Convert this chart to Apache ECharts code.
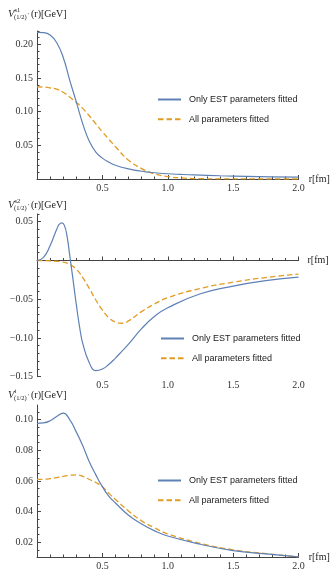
<!DOCTYPE html>
<html>
<head>
<meta charset="utf-8">
<script src="https://cdn.jsdelivr.net/npm/echarts@6/dist/echarts.min.js"></script>
<style>
  html, body { margin: 0; padding: 0; background: #fff; }
  #chart { width: 331px; height: 571px; }
</style>
</head>
<body>
<div id="chart"></div>
<script>
const seriesNames = ['Only EST parameters fitted', 'All parameters fitted']

// panel 1: V^s1
const r1 = [0, 0.05, 0.1, 0.15, 0.2, 0.25, 0.3, 0.35, 0.4, 0.45, 0.5, 0.55, 0.6, 0.7, 0.8, 0.85, 0.9, 1.0, 1.1, 1.2, 1.4, 1.6, 1.8, 2.0]
const est1 = [0.218, 0.2175, 0.214, 0.203, 0.181, 0.147, 0.115, 0.082, 0.056, 0.040, 0.031, 0.025, 0.0205, 0.015, 0.0115, 0.0103, 0.0093, 0.0078, 0.0068, 0.006, 0.0048, 0.004, 0.0033, 0.0027]
const all1 = [0.137, 0.1367, 0.1355, 0.1335, 0.129, 0.122, 0.114, 0.105, 0.094, 0.082, 0.070, 0.059, 0.048, 0.028, 0.0155, 0.011, 0.0075, 0.0036, 0.0016, 0.0007, 0.0002, 0.0001, 0, 0]
const yTicks1 = [0.05, 0.10, 0.15, 0.20]

// panel 2: V^s2
const r2 = [0, 0.05, 0.1, 0.15, 0.17, 0.19, 0.21, 0.23, 0.25, 0.275, 0.3, 0.325, 0.35, 0.4, 0.45, 0.5, 0.55, 0.6, 0.65, 0.7, 0.8, 0.9, 1.0, 1.25, 1.5, 1.75, 2.0]
const est2 = [0, 0.004, 0.019, 0.040, 0.0465, 0.0486, 0.045, 0.031, 0.007, -0.024, -0.056, -0.085, -0.107, -0.132, -0.1422, -0.140, -0.134, -0.126, -0.117, -0.108, -0.088, -0.072, -0.061, -0.043, -0.033, -0.026, -0.0215]
const all2 = [0, -0.0002, -0.0005, -0.001, -0.0015, -0.002, -0.0025, -0.0035, -0.005, -0.0075, -0.011, -0.016, -0.022, -0.036, -0.051, -0.064, -0.074, -0.0795, -0.081, -0.078, -0.066, -0.056, -0.048, -0.036, -0.028, -0.022, -0.0175]
const yTicks2 = [-0.15, -0.10, -0.05, 0.05]

// panel 3: V^t
const r3 = [0, 0.05, 0.1, 0.15, 0.2, 0.25, 0.3, 0.35, 0.4, 0.45, 0.5, 0.55, 0.6, 0.7, 0.8, 0.9, 1.0, 1.25, 1.5, 1.75, 2.0]
const est3 = [0.0975, 0.0978, 0.0992, 0.102, 0.1042, 0.100, 0.092, 0.083, 0.0725, 0.064, 0.0563, 0.050, 0.0457, 0.0377, 0.032, 0.0275, 0.0242, 0.0188, 0.0147, 0.0125, 0.0106]
const all3 = [0.061, 0.0611, 0.0615, 0.0622, 0.063, 0.0637, 0.064, 0.063, 0.061, 0.059, 0.0563, 0.052, 0.048, 0.0405, 0.034, 0.0295, 0.0255, 0.0194, 0.0152, 0.0127, 0.0106]
const yTicks3 = [0.02, 0.04, 0.06, 0.08, 0.10]

const panels = [
  { r: r1, est: est1, all: all1, ticks: yTicks1, min: 0, max: 0.22, minor: [0, 0.22, 0.01], sup: 's1',
    top: 31, height: 148, titleY: 14, legend: { left: 152, top: 90 } },
  { r: r2, est: est2, all: all2, ticks: yTicks2, min: -0.15, max: 0.06, minor: [-0.15, 0.06, 0.01], sup: 's2',
    top: 214, height: 162.7, titleY: 205, legend: { left: 155, top: 329 } },
  { r: r3, est: est3, all: all3, ticks: yTicks3, min: 0.0105, max: 0.1095, minor: [0.015, 0.105, 0.005], sup: 't',
    top: 405, height: 156, titleY: 395, legend: { left: 152, top: 471 } }
]

const axisColor = '#444'
const labelFont = { fontFamily: 'Liberation Serif', fontSize: 10, color: '#333' }
const blue = '#5e81b5'
const orange = '#e19c24'

const fmtY = v => (v < 0 ? '\u2212' : '') + Math.abs(v).toFixed(2)
const minorList = ([a, b, s]) => {
  const out = []
  for (let v = a; v <= b + 1e-9; v += s) out.push(Math.round(v * 10000) / 10000)
  return out
}

const grid = [], xAxis = [], yAxis = [], series = [], legend = [], graphic = []

panels.forEach((p, i) => {
  grid.push({ left: 37, width: 261.5, top: p.top, height: p.height })
  xAxis.push({
    type: 'value', gridIndex: i, min: 0, max: 2, interval: 0.5,
    name: 'r[fm]', nameLocation: 'end', nameGap: 9,
    nameTextStyle: { fontFamily: 'Liberation Serif', fontSize: 10, color: '#222', verticalAlign: 'middle' },
    axisLine: { onZero: true, lineStyle: { color: axisColor, width: 1 } },
    axisTick: { inside: true, length: 4, lineStyle: { color: axisColor } },
    minorTick: { show: true, splitNumber: 5, length: 2.5, lineStyle: { color: axisColor } },
    axisLabel: { ...labelFont, margin: 4, formatter: v => (v === 0 ? '' : v.toFixed(1)) },
    splitLine: { show: false }, minorSplitLine: { show: false }
  })
  // main y axis with labels and major ticks
  yAxis.push({
    type: 'value', gridIndex: i, min: p.min, max: p.max, position: 'left',
    axisLine: { show: true, onZero: false, lineStyle: { color: axisColor, width: 1 } },
    axisTick: { show: true, inside: true, length: 4, customValues: p.ticks, lineStyle: { color: axisColor } },
    axisLabel: { ...labelFont, margin: 4, customValues: p.ticks, formatter: fmtY },
    splitLine: { show: false }
  })
  // overlay axis for minor ticks
  yAxis.push({
    type: 'value', gridIndex: i, min: p.min, max: p.max, position: 'left', offset: 0,
    axisLine: { show: false, onZero: false },
    axisTick: { show: true, inside: true, length: 2.5, customValues: minorList(p.minor), lineStyle: { color: axisColor } },
    axisLabel: { show: false },
    splitLine: { show: false }
  })
  series.push({
    name: seriesNames[0], type: 'line', xAxisIndex: i, yAxisIndex: 2 * i,
    data: p.r.map((r, k) => [r, p.est[k]]),
    symbol: 'none', smooth: 0.5, z: 3,
    itemStyle: { color: blue },
    lineStyle: { color: blue, width: 1.2 }
  })
  series.push({
    name: seriesNames[1], type: 'line', xAxisIndex: i, yAxisIndex: 2 * i,
    data: p.r.map((r, k) => [r, p.all[k]]),
    symbol: 'none', smooth: 0.5, z: 2,
    itemStyle: { color: orange },
    lineStyle: { color: orange, width: 1.3, type: [5.5, 3] }
  })
  legend.push({
    orient: 'vertical', left: p.legend.left, top: p.legend.top,
    itemWidth: 23, itemHeight: 10, itemGap: 10.7, selectedMode: false,
    itemStyle: { opacity: 0 },
    data: seriesNames,
    textStyle: { fontFamily: 'Liberation Sans', fontSize: 9, color: '#222', padding: [0, 0, 0, 3] }
  })
  // y axis title  V^{sup}_{(1/2)'}(r)[GeV]
  const ty = p.titleY
  graphic.push(
    { type: 'text', x: 8, y: ty, style: { text: 'V', font: 'italic 10.5px "Liberation Serif"', fill: '#222', verticalAlign: 'middle' } },
    { type: 'text', x: 14.5, y: ty - 3.5, style: { text: p.sup, font: '6.5px "Liberation Serif"', fill: '#222', verticalAlign: 'middle' } },
    { type: 'text', x: 14, y: ty + 3, style: { text: '(1/2)', font: '6.5px "Liberation Serif"', fill: '#222', verticalAlign: 'middle' } },
    { type: 'text', x: 28, y: ty + 1, style: { text: '\u2032', font: '6px "Liberation Serif"', fill: '#222', verticalAlign: 'middle' } },
    { type: 'text', x: 31, y: ty, style: { text: '(r)[GeV]', font: '10px "Liberation Serif"', fill: '#222', verticalAlign: 'middle' } }
  )
})

const chart = echarts.init(document.getElementById('chart'))
chart.setOption({
  animation: false,
  backgroundColor: '#fff',
  grid, xAxis, yAxis, series, legend, graphic
})
</script>
</body>
</html>
